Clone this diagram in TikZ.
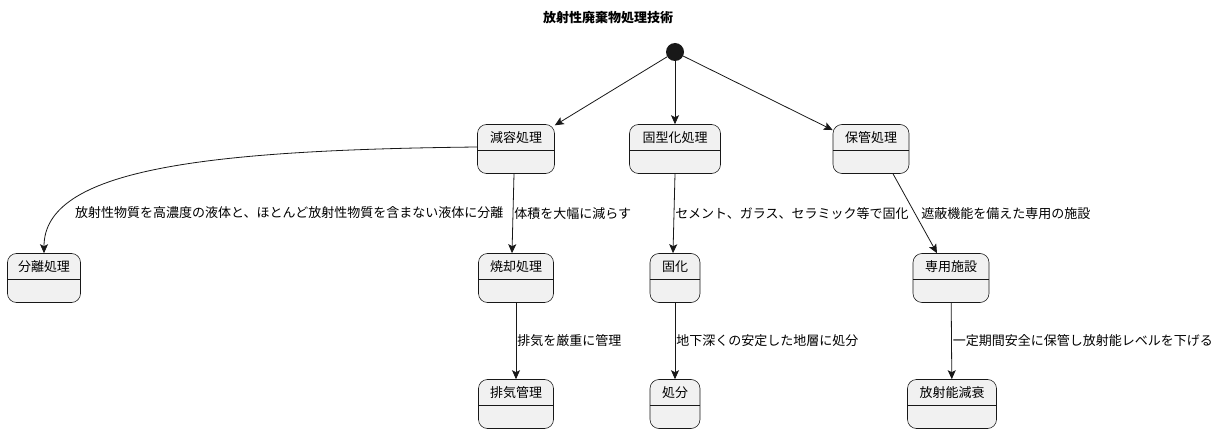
\documentclass[tikz,border=0pt]{standalone}
\usepackage{fontspec}
\setmainfont{Noto Sans CJK JP}
\usetikzlibrary{arrows.meta}
\definecolor{boxfill}{HTML}{F1F1F1}
\definecolor{boxline}{HTML}{181818}
\tikzset{
  st/.style={draw=boxline,fill=boxfill,line width=0.6pt,rounded corners=9pt,minimum height=49pt,inner sep=0pt,
    path picture={\draw[boxline,line width=0.5pt] ([yshift=-26pt]path picture bounding box.north west) -- ([yshift=-26pt]path picture bounding box.north east);}},
  ttl/.style={anchor=north,yshift=-4pt,font=\fontsize{13}{15}\selectfont},
  tr/.style={draw=boxline,line width=0.8pt,-{Stealth[length=9pt,width=8pt,inset=2pt]}},
  lab/.style={font=\fontsize{13}{15}\selectfont,anchor=west,inner sep=1pt}
}
\begin{document}
\begin{tikzpicture}[x=1pt,y=-1pt]
\useasboundingbox (0,0) rectangle (1219,433);
\node[font=\bfseries\fontsize{13}{15}\selectfont] (title) at (608,18) {放射性廃棄物処理技術};
\node[circle,fill=boxline,minimum size=18pt,inner sep=0pt] (start) at (675,52) {};
% first row
\node[st,minimum width=77pt,label={[ttl]north:減容処理}] (gen) at (516,149) {};
\node[st,minimum width=91pt,label={[ttl]north:固型化処理}] (kok) at (675,149) {};
\node[st,minimum width=76pt,label={[ttl]north:保管処理}] (hok) at (871,149) {};
% second row
\node[st,minimum width=73pt,label={[ttl]north:分離処理}] (bun) at (44,278) {};
\node[st,minimum width=75pt,label={[ttl]north:焼却処理}] (sho) at (516,278) {};
\node[st,minimum width=50pt,label={[ttl]north:固化}] (koka) at (675,278) {};
\node[st,minimum width=76pt,label={[ttl]north:専用施設}] (sen) at (951,278) {};
% third row
\node[st,minimum width=75pt,label={[ttl]north:排気管理}] (hai) at (516,404) {};
\node[st,minimum width=50pt,label={[ttl]north:処分}] (sho2) at (675,404) {};
\node[st,minimum width=89pt,label={[ttl]north:放射能減衰}] (gen2) at (952,404) {};

\draw[tr] (start) -- (gen);
\draw[tr] (start) -- (kok);
\draw[tr] (start) -- (hok);
\draw[tr] ([yshift=2pt]gen.west) .. controls (200,150) and (44,170) .. (bun.north);
\node[lab] (bunlab) at (74,213) {放射性物質を高濃度の液体と、ほとんど放射性物質を含まない液体に分離};
\draw[tr] ([xshift=-2pt]gen.south) -- node[lab] {体積を大幅に減らす} ([xshift=-4pt]sho.north);
\draw[tr] (kok.south) -- node[lab] {セメント、ガラス、セラミック等で固化} ([xshift=-2pt]koka.north);
\draw[tr] ([xshift=22pt]hok.south) -- node[lab,xshift=5pt] {遮蔽機能を備えた専用の施設} ([xshift=-14pt]sen.north);
\draw[tr] (sho) -- node[lab] {排気を厳重に管理} (hai);
\draw[tr] (koka) -- node[lab] {地下深くの安定した地層に処分} (sho2);
\draw[tr] (sen) -- node[lab] {一定期間安全に保管し放射能レベルを下げる} (gen2);
\end{tikzpicture}
\end{document}
